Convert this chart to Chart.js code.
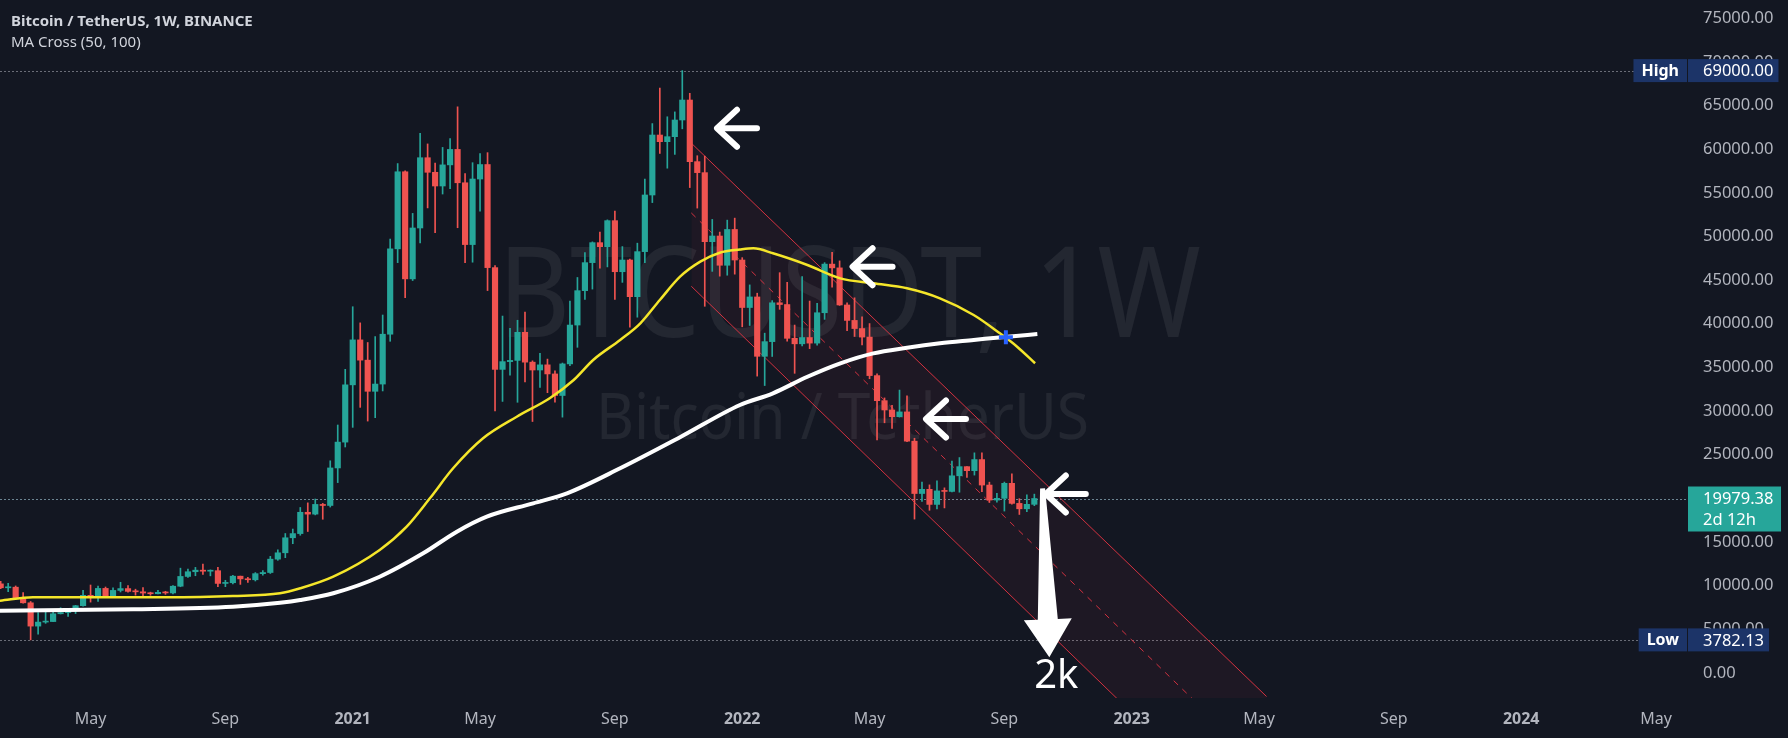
<!DOCTYPE html>
<html>
<head>
<meta charset="utf-8">
<script src="https://cdn.jsdelivr.net/npm/chart.js@4.4.0/dist/chart.umd.min.js"></script>
<style>
  html, body { margin: 0; padding: 0; background: #131722; }
  #wrap { position: relative; width: 1788px; height: 738px; }
  canvas { display: block; }
</style>
</head>
<body>
<div id="wrap"><canvas id="btcChart" width="1788" height="738"></canvas></div>
<script>
// weekly candles, week index counted from the 2021-01-04 bar
const firstWeek = -47;

const opens = [
  10200, 9750, 9820, 8530, 8030, 5360, 5820, 5880, 6775, 6910,
  7120, 7700, 8890, 8720, 9680, 8800, 9450, 9660, 9340, 9290,
  9150, 9070, 9230, 9160, 9930, 11050, 11590, 11770, 11650, 11710,
  10250, 10330, 11080, 10770, 10670, 11370, 11500, 13030, 13760, 15480,
  15960, 18400, 18190, 19300, 19180, 23480, 26440, 33000, 38150, 35830,
  32260, 33090, 38800, 48580, 57410, 45140, 50970, 59020, 57350, 55780,
  58200, 59970, 56150, 49070, 56580, 58240, 46430, 34770, 35660, 35800,
  39020, 35600, 34700, 35290, 34250, 31780, 35400, 39850, 43790, 47000,
  49290, 48830, 51810, 45960, 47300, 43100, 48260, 54750, 61620, 60860,
  61430, 63340, 65630, 58570, 57310, 49400, 50050, 46700, 50800, 47300,
  41860, 43070, 36270, 37950, 42400, 42200, 38330, 37700, 38420, 37780,
  41260, 46830, 46400, 42150, 40380, 39450, 38470, 34060, 31190, 30120,
  29350, 29900, 26550, 20550, 21030, 19300, 20850, 20790, 22580, 23630,
  23170, 24440, 21520, 19800, 20000, 21720, 19420, 18800, 19310
];
const highs = [
  10500, 10250, 9960, 9190, 8180, 6900, 6950, 7200, 7470, 7290,
  7740, 9460, 10070, 9950, 9840, 9740, 10380, 9990, 9590, 9780,
  9250, 9470, 9350, 9990, 12000, 11900, 12090, 12470, 11800, 12090,
  10610, 11180, 11090, 10950, 11490, 11720, 13350, 14100, 15970, 16480,
  18950, 19480, 19920, 19420, 24300, 28400, 34780, 41950, 40100, 37850,
  38530, 41000, 49700, 58350, 57530, 52640, 61800, 60600, 58400, 60200,
  61200, 64850, 57200, 58450, 59500, 59600, 46660, 40880, 39480, 40400,
  41330, 35750, 36600, 35950, 34600, 35500, 42600, 45300, 48140, 49380,
  50500, 51900, 52920, 48840, 47400, 49230, 56560, 62930, 67000, 63710,
  64270, 69000, 66400, 59250, 59200, 51950, 50500, 51870, 52100, 47570,
  44450, 43500, 38920, 42650, 45850, 44750, 39850, 45400, 42600, 42330,
  47000, 48190, 47200, 42400, 42970, 40800, 40020, 34250, 31500, 30650,
  32400, 31750, 26880, 21860, 21540, 22000, 21200, 24280, 24670, 23650,
  25210, 25200, 21850, 20580, 21860, 22800, 19960, 20390, 20480
];
const lows = [
  9650, 9300, 8450, 8000, 3782.13, 4440, 5680, 5860, 6750, 6460,
  6800, 7650, 8110, 8200, 8700, 8630, 9270, 9250, 8910, 8830,
  8890, 9050, 9000, 9040, 9870, 10950, 11130, 11280, 11120, 9880,
  9880, 10200, 10140, 10370, 10530, 11200, 11390, 12900, 13200, 14800,
  15770, 16200, 18100, 17600, 19000, 21800, 25880, 28130, 30420, 28850,
  29240, 32300, 37990, 47000, 43000, 44950, 49270, 53270, 50430, 54860,
  55470, 51000, 47000, 47050, 52900, 43800, 30000, 31100, 34100, 31000,
  33340, 28800, 32700, 32100, 31020, 29300, 35210, 37300, 42800, 43970,
  46370, 46510, 42800, 44740, 39600, 40750, 47000, 53880, 59510, 57820,
  59400, 62330, 55600, 53250, 42000, 46000, 45450, 45560, 45680, 39650,
  39800, 34000, 32920, 36250, 41650, 38000, 34320, 37460, 37150, 37550,
  40500, 44200, 42100, 39200, 38540, 37580, 33700, 26700, 28650, 28020,
  29300, 26500, 17620, 19640, 18630, 18780, 18900, 20740, 20700, 22400,
  22660, 20760, 19520, 19550, 18540, 19320, 18150, 18470, 19160
];
const closes = [
  9750, 9820, 8530, 8030, 5360, 5820, 5880, 6775, 6910, 7120,
  7700, 8890, 8720, 9680, 8800, 9450, 9660, 9340, 9290, 9150,
  9070, 9230, 9160, 9930, 11050, 11590, 11770, 11650, 11710, 10250,
  10330, 11080, 10770, 10670, 11370, 11500, 13030, 13760, 15480, 15960,
  18400, 18190, 19300, 19180, 23480, 26440, 33000, 38150, 35830, 32260,
  33090, 38800, 48580, 57410, 45140, 50970, 59020, 57350, 55780, 58200,
  59970, 56150, 49070, 56580, 58240, 46430, 34770, 35660, 35800, 39020,
  35600, 34700, 35290, 34250, 31780, 35400, 39850, 43790, 47000, 49290,
  48830, 51810, 45960, 47300, 43100, 48260, 54750, 61620, 60860, 61430,
  63340, 65630, 58570, 57310, 49400, 50050, 46700, 50800, 47300, 41860,
  43070, 36270, 37950, 42400, 42200, 38330, 37700, 38420, 37780, 41260,
  46830, 46400, 42150, 40380, 39450, 38470, 34060, 31190, 30120, 29350,
  29900, 26550, 20550, 21030, 19300, 20850, 20790, 22580, 23630, 23170,
  24440, 21520, 19800, 20000, 21720, 19420, 18800, 19310, 19979.38
];

// moving averages
const ma50Weeks = [-47.1, -42.7, -35, -25, -16, -9.7, -7, -2.6, 3.6, 7.2, 10.3, 13.4, 17.4, 21.9, 26.3, 29.5, 32.1, 35.7, 38.4, 41, 43.7, 46.4, 49, 51.7, 53.5, 56.1, 60.7, 65.1, 69.5, 74, 78.4, 82.9, 86.4, 88.7, 91.1];
const ma50Values = [8270, 8660, 8660, 8660, 8800, 9120, 9690, 11020, 14080, 16750, 20000, 23440, 26880, 29350, 31460, 33550, 35850, 38140, 40050, 42720, 45390, 47110, 48140, 48500, 48640, 48070, 46730, 45200, 44630, 44060, 42910, 41000, 38900, 37370, 35470];
const ma100Weeks = [-47.1, -29.3, -16, -9.7, -7, -2.6, 3.6, 9.4, 13.9, 17.9, 24.1, 28.6, 35.7, 43.7, 51.7, 56.1, 60.7, 65.1, 69.5, 74, 78.4, 82.9, 87.4, 91.4];
const ma100Values = [7130, 7290, 7590, 8040, 8350, 9120, 11020, 13700, 16180, 17900, 19430, 20570, 23440, 27000, 30690, 32030, 33930, 35470, 36610, 37250, 37760, 38140, 38520, 38820];
const crossWeek = [87.2];
const crossPrice = [38450];

// descending channel drawing
const channelWeeks = [45.2, 122];
const channelUpper = [60695, -2703];
const channelMiddle = [52694, -11204];
const channelLower = [44295, -19526];

// arrows and target
const arrowWeeks = [48.5, 66.6, 76.4, 92.4];
const arrowPrices = [62390, 46530, 29090, 20500];
const dropWeeks = [92.1, 93.0];
const dropPrices = [21150, 1790];
const dropLabel = '2k';

// axis ticks
const xTickWeeks = [-35, -17, 0, 17, 35, 52, 69, 87, 104, 121, 139, 156, 174];
const xTickLabels = ['May', 'Sep', '2021', 'May', 'Sep', '2022', 'May', 'Sep', '2023', 'May', 'Sep', '2024', 'May'];
const yTicks = [0, 5000, 10000, 15000, 20000, 25000, 30000, 35000, 40000, 45000, 50000, 55000, 60000, 65000, 70000, 75000];

const highPrice = 69000;
const lowPrice = 3782.13;
const lastPrice = 19979.38;
const timeLeft = '2d 12h';

const UP = '#26a69a';
const DOWN = '#ef5350';
const FONT = '"Noto Sans", sans-serif';

const weeks = opens.map((_, i) => firstWeek + i);
const candleColors = closes.map((c, i) => (c >= opens[i] ? UP : DOWN));

function leftArrow(ctx, x, y) {
  ctx.beginPath();
  ctx.moveTo(x + 41, y);
  ctx.lineTo(x + 2, y);
  ctx.moveTo(x + 21, y - 18.5);
  ctx.lineTo(x + 1, y);
  ctx.lineTo(x + 21, y + 18.5);
  ctx.stroke();
}

function priceTag(ctx, tag, text, yPix) {
  ctx.font = 'bold 16px ' + FONT;
  const tagW = ctx.measureText(tag).width;
  ctx.fillStyle = '#1c3468';
  ctx.fillRect(1679 - tagW - 8, yPix - 11.5, 1687 - (1679 - tagW - 8), 23);
  ctx.font = '16.5px ' + FONT;
  const valW = ctx.measureText(text).width;
  ctx.fillRect(1688, yPix - 11.5, 1703 + valW + 5 - 1688, 23);
  ctx.fillStyle = '#ffffff';
  ctx.textBaseline = 'middle';
  ctx.textAlign = 'right';
  ctx.font = 'bold 16px ' + FONT;
  ctx.fillText(tag, 1679, yPix + 1);
  ctx.textAlign = 'left';
  ctx.font = '16.5px ' + FONT;
  ctx.fillText(text, 1703, yPix + 1);
}

// no auto padding around the plot: the axes keep their own box only
function noPadding(scale) {
  scale.paddingTop = 0;
  scale.paddingBottom = 0;
  scale.paddingLeft = 0;
  scale.paddingRight = 0;
}

const overlay = {
  id: 'overlay',
  beforeDatasetsDraw(chart) {
    const { ctx, scales: { y } } = chart;
    ctx.save();
    ctx.fillStyle = 'rgba(255,255,255,0.07)';
    ctx.textAlign = 'center';
    ctx.textBaseline = 'alphabetic';
    ctx.font = '126px ' + FONT;
    ctx.fillText('BTCUSDT, 1W', 849.5, 337, 703);
    ctx.font = '63px ' + FONT;
    ctx.fillText('Bitcoin / TetherUS', 842.5, 438.5, 493);

    ctx.lineWidth = 1;
    ctx.setLineDash([2, 2]);
    ctx.strokeStyle = 'rgba(178,181,190,0.55)';
    [[highPrice, 1634], [lowPrice, 1638]].forEach(([p, end]) => {
      const py = Math.round(y.getPixelForValue(p)) + 0.5;
      ctx.beginPath(); ctx.moveTo(0, py); ctx.lineTo(end, py); ctx.stroke();
    });
    ctx.strokeStyle = 'rgba(130,160,175,0.8)';
    const ly = Math.round(y.getPixelForValue(lastPrice)) + 0.5;
    ctx.beginPath(); ctx.moveTo(0, ly); ctx.lineTo(1688, ly); ctx.stroke();
    ctx.restore();
  },
  afterDatasetsDraw(chart) {
    const { ctx, scales: { x, y } } = chart;
    ctx.save();
    ctx.strokeStyle = '#ffffff';
    ctx.fillStyle = '#ffffff';
    ctx.lineWidth = 6;
    ctx.lineCap = 'round';
    ctx.lineJoin = 'round';
    arrowWeeks.forEach((w, i) => leftArrow(ctx, x.getPixelForValue(w), y.getPixelForValue(arrowPrices[i])));

    const top = { x: x.getPixelForValue(dropWeeks[0]), y: y.getPixelForValue(dropPrices[0]) };
    const tip = { x: x.getPixelForValue(dropWeeks[1]), y: y.getPixelForValue(dropPrices[1]) };
    const len = Math.hypot(tip.x - top.x, tip.y - top.y);
    const ux = (tip.x - top.x) / len, uy = (tip.y - top.y) / len;
    const px = -uy, py = ux;
    const base = { x: tip.x - ux * 38, y: tip.y - uy * 38 };
    ctx.beginPath();
    ctx.moveTo(top.x + px * 2.5, top.y + py * 2.5);
    ctx.lineTo(base.x + px * 10, base.y + py * 10);
    ctx.lineTo(base.x + px * 24, base.y + py * 24);
    ctx.lineTo(tip.x, tip.y);
    ctx.lineTo(base.x - px * 24, base.y - py * 24);
    ctx.lineTo(base.x - px * 10, base.y - py * 10);
    ctx.lineTo(top.x - px * 2.5, top.y - py * 2.5);
    ctx.closePath();
    ctx.fill();

    ctx.font = '40px ' + FONT;
    ctx.textAlign = 'center';
    ctx.textBaseline = 'alphabetic';
    ctx.fillText(dropLabel, tip.x + 7, tip.y + 31);
    ctx.restore();
  },
  afterDraw(chart) {
    const { ctx, scales: { y } } = chart;
    ctx.save();
    ctx.textAlign = 'left';
    ctx.textBaseline = 'alphabetic';
    ctx.fillStyle = '#d1d4dc';
    ctx.font = 'bold 15px ' + FONT;
    ctx.fillText('Bitcoin / TetherUS, 1W, BINANCE', 11, 26, 248);
    ctx.font = '15px ' + FONT;
    ctx.fillText('MA Cross (50, 100)', 11, 46.5, 135);

    priceTag(ctx, 'High', highPrice.toFixed(2), y.getPixelForValue(highPrice));
    priceTag(ctx, 'Low', lowPrice.toFixed(2), y.getPixelForValue(lowPrice));

    const ly = y.getPixelForValue(lastPrice);
    ctx.fillStyle = UP;
    ctx.fillRect(1688, ly - 12, 93, 45);
    ctx.fillStyle = '#ffffff';
    ctx.textBaseline = 'middle';
    ctx.font = '16.5px ' + FONT;
    ctx.fillText(lastPrice.toFixed(2), 1703, ly + 1);
    ctx.fillText(timeLeft, 1703, ly + 22);
    ctx.restore();
  }
};

const channelStyle = { type: 'line', borderColor: 'rgba(242,54,69,0.85)', borderWidth: 1, pointRadius: 0, order: 5 };

new Chart(document.getElementById('btcChart'), {
  type: 'bar',
  data: {
    datasets: [
      {
        type: 'line', label: 'MA 50',
        data: ma50Weeks.map((w, i) => ({ x: w, y: ma50Values[i] })),
        borderColor: '#f5e62a', borderWidth: 2.5, pointRadius: 0,
        cubicInterpolationMode: 'monotone', order: 0
      },
      {
        type: 'line', label: 'MA 100',
        data: ma100Weeks.map((w, i) => ({ x: w, y: ma100Values[i] })),
        borderColor: '#ffffff', borderWidth: 4, pointRadius: 0,
        cubicInterpolationMode: 'monotone', order: 1
      },
      {
        type: 'line', label: 'Cross',
        data: crossWeek.map((w, i) => ({ x: w, y: crossPrice[i] })),
        showLine: false, pointStyle: 'cross', pointRadius: 7,
        pointBorderWidth: 4, pointBorderColor: '#2962ff', order: -1
      },
      {
        label: 'Bodies',
        data: weeks.map((w, i) => ({ x: w, y: [opens[i], closes[i]] })),
        backgroundColor: candleColors, barThickness: 5.5, minBarLength: 1,
        grouped: false, order: 2
      },
      {
        label: 'Wicks',
        data: weeks.map((w, i) => ({ x: w, y: [lows[i], highs[i]] })),
        backgroundColor: candleColors, barThickness: 1,
        grouped: false, order: 3
      },
      {
        ...channelStyle, label: 'Upper',
        data: channelWeeks.map((w, i) => ({ x: w, y: channelUpper[i] })),
        fill: '+1', backgroundColor: 'rgba(242,54,69,0.05)'
      },
      {
        ...channelStyle, label: 'Lower',
        data: channelWeeks.map((w, i) => ({ x: w, y: channelLower[i] }))
      },
      {
        ...channelStyle, label: 'Middle', borderDash: [6, 6],
        data: channelWeeks.map((w, i) => ({ x: w, y: channelMiddle[i] }))
      }
    ]
  },
  options: {
    responsive: false,
    devicePixelRatio: 1,
    animation: false,
    layout: { padding: 0, autoPadding: false },
    plugins: {
      legend: { display: false },
      tooltip: { enabled: false }
    },
    scales: {
      x: {
        type: 'linear',
        position: 'bottom',
        offset: false,
        min: -47.09,
        max: 178.0,
        bounds: 'data',
        grid: { display: false, drawTicks: false, offset: false },
        border: { display: false },
        afterBuildTicks: (scale) => { scale.ticks = xTickWeeks.map((v) => ({ value: v })); },
        afterFit: (scale) => { scale.height = 40; noPadding(scale); },
        ticks: {
          autoSkip: false,
          maxRotation: 0,
          padding: 12,
          color: '#b2b5be',
          font: (ctx) => ({
            family: FONT,
            size: 16,
            weight: /^\d{4}$/.test(xTickLabels[xTickWeeks.indexOf(ctx.tick && ctx.tick.value)] || '') ? 'bold' : 'normal'
          }),
          callback: (value) => xTickLabels[xTickWeeks.indexOf(value)] || ''
        }
      },
      y: {
        type: 'linear',
        position: 'right',
        min: -2875.5,
        max: 77088,
        bounds: 'data',
        grid: { display: false, drawTicks: false },
        border: { display: false },
        afterBuildTicks: (scale) => { scale.ticks = yTicks.map((v) => ({ value: v })); },
        afterFit: (scale) => { scale.width = 102; noPadding(scale); },
        ticks: {
          padding: 17,
          color: '#b2b5be',
          font: { family: FONT, size: 16.5 },
          callback: (value) => Number(value).toFixed(2)
        }
      }
    }
  },
  plugins: [overlay]
});
</script>
</body>
</html>
